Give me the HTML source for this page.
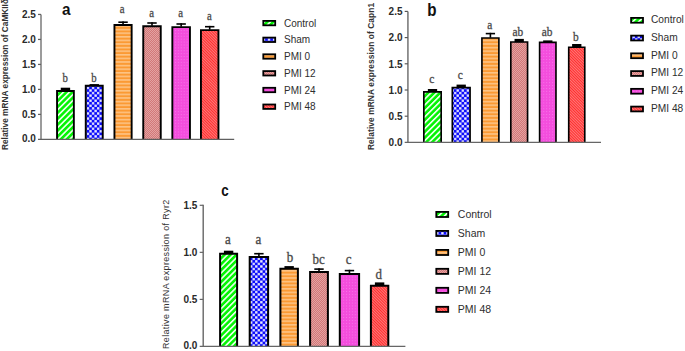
<!DOCTYPE html>
<html><head><meta charset="utf-8"><style>
html,body{margin:0;padding:0;background:#fff;width:685px;height:351px;overflow:hidden}
svg{display:block}
</style></head><body>
<svg width="685" height="351" viewBox="0 0 685 351">

<defs>
 <pattern id="pg" patternUnits="userSpaceOnUse" width="4.2" height="4.2" patternTransform="rotate(45)">
   <rect width="4.2" height="4.2" fill="#04f404"/><rect x="0" width="1.6" height="4.2" fill="#f0fff0"/>
 </pattern>
 <pattern id="pb" patternUnits="userSpaceOnUse" width="5.1" height="5.1">
   <rect width="5.1" height="5.1" fill="#0c0cfa"/>
   <rect x="0.12" y="0.12" width="2.3" height="2.3" fill="#f2f2ff"/>
   <rect x="2.67" y="2.67" width="2.3" height="2.3" fill="#f2f2ff"/>
 </pattern>
 <pattern id="po" patternUnits="userSpaceOnUse" width="4" height="3.6">
   <rect width="4" height="3.6" fill="#fb9a34"/><rect y="0" width="4" height="1.6" fill="#fdc384"/>
 </pattern>
 <pattern id="pr" patternUnits="userSpaceOnUse" width="2" height="2">
   <rect width="2" height="2" fill="#d27878"/><rect width="1" height="1" fill="#e4a2a2"/><rect x="1" y="1" width="1" height="1" fill="#e4a2a2"/>
 </pattern>
 <pattern id="pm" patternUnits="userSpaceOnUse" width="2.9" height="2.9">
   <rect width="2.9" height="2.9" fill="#f44ddd"/><rect x="1" y="1" width="1" height="1" fill="#f778ea"/>
 </pattern>
 <pattern id="pd" patternUnits="userSpaceOnUse" width="2" height="2" patternTransform="rotate(-45)">
   <rect width="2" height="2" fill="#ff2e2e"/><rect x="0" width="0.9" height="2" fill="#ff8080"/>
 </pattern>
</defs>
<rect width="685" height="351" fill="#fff"/>
<rect x="57.05" y="90.95" width="16.80" height="48.45" fill="url(#pg)"/>
<path d="M57.05,139.40V90.95H73.85V139.40" fill="none" stroke="#000" stroke-width="1.9"/>
<rect x="60.75" y="87.70" width="9.40" height="3.30" fill="#000"/>
<text transform="translate(65.20,82.00) scale(0.9,1.03)" text-anchor="middle" font-family='"Liberation Serif", serif' font-size="12" fill="#4a4a4a" stroke="#4a4a4a" stroke-width="0.3">b</text>
<rect x="85.75" y="85.75" width="17.00" height="53.65" fill="url(#pb)"/>
<path d="M85.75,139.40V85.75H102.75V139.40" fill="none" stroke="#000" stroke-width="1.9"/>
<rect x="89.55" y="84.10" width="9.40" height="1.70" fill="#000"/>
<text transform="translate(93.85,82.00) scale(0.9,1.03)" text-anchor="middle" font-family='"Liberation Serif", serif' font-size="12" fill="#4a4a4a" stroke="#4a4a4a" stroke-width="0.3">b</text>
<rect x="114.45" y="24.95" width="17.20" height="114.45" fill="url(#po)"/>
<path d="M114.45,139.40V24.95H131.65V139.40" fill="none" stroke="#000" stroke-width="1.9"/>
<rect x="122.25" y="21.40" width="1.6" height="3.10" fill="#000"/>
<rect x="118.35" y="21.40" width="9.40" height="1.6" fill="#000"/>
<text transform="translate(122.15,13.30) scale(0.9,1.03)" text-anchor="middle" font-family='"Liberation Serif", serif' font-size="12" fill="#4a4a4a" stroke="#4a4a4a" stroke-width="0.3">a</text>
<rect x="143.25" y="26.25" width="17.50" height="113.15" fill="url(#pr)"/>
<path d="M143.25,139.40V26.25H160.75V139.40" fill="none" stroke="#000" stroke-width="1.9"/>
<rect x="151.20" y="22.20" width="1.6" height="3.60" fill="#000"/>
<rect x="147.30" y="22.20" width="9.40" height="1.6" fill="#000"/>
<text transform="translate(151.65,17.40) scale(0.9,1.03)" text-anchor="middle" font-family='"Liberation Serif", serif' font-size="12" fill="#4a4a4a" stroke="#4a4a4a" stroke-width="0.3">a</text>
<rect x="172.35" y="27.15" width="17.60" height="112.25" fill="url(#pm)"/>
<path d="M172.35,139.40V27.15H189.95V139.40" fill="none" stroke="#000" stroke-width="1.9"/>
<rect x="180.35" y="23.20" width="1.6" height="3.50" fill="#000"/>
<rect x="176.45" y="23.20" width="9.40" height="1.6" fill="#000"/>
<text transform="translate(180.75,17.40) scale(0.9,1.03)" text-anchor="middle" font-family='"Liberation Serif", serif' font-size="12" fill="#4a4a4a" stroke="#4a4a4a" stroke-width="0.3">a</text>
<rect x="200.95" y="30.15" width="17.50" height="109.25" fill="url(#pd)"/>
<path d="M200.95,139.40V30.15H218.45V139.40" fill="none" stroke="#000" stroke-width="1.9"/>
<rect x="208.90" y="25.90" width="1.6" height="3.80" fill="#000"/>
<rect x="205.00" y="25.90" width="9.40" height="1.6" fill="#000"/>
<text transform="translate(209.30,19.60) scale(0.9,1.03)" text-anchor="middle" font-family='"Liberation Serif", serif' font-size="12" fill="#4a4a4a" stroke="#4a4a4a" stroke-width="0.3">a</text>
<line x1="41.0" y1="14.45" x2="41.0" y2="139.4" stroke="#606060" stroke-width="1.25"/>
<line x1="38" y1="139.4" x2="234.2" y2="139.4" stroke="#606060" stroke-width="1.25"/>
<text x="35.9" y="141.80" text-anchor="end" font-family='"Liberation Sans", sans-serif' font-weight="bold" font-size="10" fill="#2a2a2a">0.0</text>
<line x1="38" y1="114.41" x2="41.0" y2="114.41" stroke="#606060" stroke-width="1.25"/>
<text x="35.9" y="117.81" text-anchor="end" font-family='"Liberation Sans", sans-serif' font-weight="bold" font-size="10" fill="#2a2a2a">0.5</text>
<line x1="38" y1="89.42" x2="41.0" y2="89.42" stroke="#606060" stroke-width="1.25"/>
<text x="35.9" y="92.82" text-anchor="end" font-family='"Liberation Sans", sans-serif' font-weight="bold" font-size="10" fill="#2a2a2a">1.0</text>
<line x1="38" y1="64.43" x2="41.0" y2="64.43" stroke="#606060" stroke-width="1.25"/>
<text x="35.9" y="67.83" text-anchor="end" font-family='"Liberation Sans", sans-serif' font-weight="bold" font-size="10" fill="#2a2a2a">1.5</text>
<line x1="38" y1="39.44" x2="41.0" y2="39.44" stroke="#606060" stroke-width="1.25"/>
<text x="35.9" y="42.84" text-anchor="end" font-family='"Liberation Sans", sans-serif' font-weight="bold" font-size="10" fill="#2a2a2a">2.0</text>
<line x1="38" y1="14.45" x2="41.0" y2="14.45" stroke="#606060" stroke-width="1.25"/>
<text x="35.9" y="17.85" text-anchor="end" font-family='"Liberation Sans", sans-serif' font-weight="bold" font-size="10" fill="#2a2a2a">2.5</text>
<text transform="translate(62.0,14.8) scale(1,1.07)" font-family='"Liberation Sans", sans-serif' font-weight="bold" font-size="15.3" fill="#111">a</text>
<text transform="translate(7.7,150) rotate(-90)" x="0" y="0" font-family='"Liberation Sans", sans-serif' font-weight="bold" font-size="8.4" fill="#333" textLength="151" lengthAdjust="spacing">Relative mRNA expression of CaMKIIδ</text>
<rect x="263.30" y="20.90" width="11.90" height="4.40" fill="url(#pg)" stroke="#000" stroke-width="1.8"/>
<text x="284" y="26.60" font-family='"Liberation Sans", sans-serif' font-size="10" fill="#2e2e2e">Control</text>
<rect x="263.30" y="37.60" width="11.90" height="4.40" fill="url(#pb)" stroke="#000" stroke-width="1.8"/>
<text x="284" y="43.30" font-family='"Liberation Sans", sans-serif' font-size="10" fill="#2e2e2e">Sham</text>
<rect x="263.30" y="54.30" width="11.90" height="4.40" fill="url(#po)" stroke="#000" stroke-width="1.8"/>
<text x="284" y="60.00" font-family='"Liberation Sans", sans-serif' font-size="10" fill="#2e2e2e">PMI 0</text>
<rect x="263.30" y="71.10" width="11.90" height="4.40" fill="url(#pr)" stroke="#000" stroke-width="1.8"/>
<text x="284" y="76.80" font-family='"Liberation Sans", sans-serif' font-size="10" fill="#2e2e2e">PMI 12</text>
<rect x="263.30" y="87.80" width="11.90" height="4.40" fill="url(#pm)" stroke="#000" stroke-width="1.8"/>
<text x="284" y="93.50" font-family='"Liberation Sans", sans-serif' font-size="10" fill="#2e2e2e">PMI 24</text>
<rect x="263.30" y="104.50" width="11.90" height="4.40" fill="url(#pd)" stroke="#000" stroke-width="1.8"/>
<text x="284" y="110.20" font-family='"Liberation Sans", sans-serif' font-size="10" fill="#2e2e2e">PMI 48</text>
<rect x="423.82" y="91.83" width="17.35" height="50.58" fill="url(#pg)"/>
<path d="M423.82,142.40V91.83H441.18V142.40" fill="none" stroke="#000" stroke-width="1.65"/>
<rect x="427.85" y="89.00" width="9.30" height="3.00" fill="#000"/>
<text transform="translate(431.70,82.65) scale(0.95,1.0)" text-anchor="middle" font-family='"Liberation Serif", serif' font-size="12" fill="#4a4a4a" stroke="#4a4a4a" stroke-width="0.3">c</text>
<rect x="452.32" y="87.62" width="17.75" height="54.78" fill="url(#pb)"/>
<path d="M452.32,142.40V87.62H470.07V142.40" fill="none" stroke="#000" stroke-width="1.65"/>
<rect x="456.55" y="84.60" width="9.30" height="3.20" fill="#000"/>
<text transform="translate(460.20,79.15) scale(0.95,1.0)" text-anchor="middle" font-family='"Liberation Serif", serif' font-size="12" fill="#4a4a4a" stroke="#4a4a4a" stroke-width="0.3">c</text>
<rect x="481.93" y="38.03" width="16.95" height="104.38" fill="url(#po)"/>
<path d="M481.93,142.40V38.03H498.88V142.40" fill="none" stroke="#000" stroke-width="1.65"/>
<rect x="489.60" y="32.80" width="1.6" height="4.90" fill="#000"/>
<rect x="485.75" y="32.80" width="9.30" height="1.6" fill="#000"/>
<text transform="translate(489.90,28.70) scale(0.95,1.0)" text-anchor="middle" font-family='"Liberation Serif", serif' font-size="12" fill="#4a4a4a" stroke="#4a4a4a" stroke-width="0.3">a</text>
<rect x="510.82" y="42.03" width="16.75" height="100.38" fill="url(#pr)"/>
<path d="M510.82,142.40V42.03H527.57V142.40" fill="none" stroke="#000" stroke-width="1.65"/>
<rect x="514.55" y="38.90" width="9.30" height="3.30" fill="#000"/>
<text transform="translate(517.90,35.60) scale(0.95,1.0)" text-anchor="middle" font-family='"Liberation Serif", serif' font-size="12" fill="#4a4a4a" stroke="#4a4a4a" stroke-width="0.3">ab</text>
<rect x="539.62" y="42.43" width="16.35" height="99.98" fill="url(#pm)"/>
<path d="M539.62,142.40V42.43H555.97V142.40" fill="none" stroke="#000" stroke-width="1.65"/>
<rect x="543.15" y="40.40" width="9.30" height="2.20" fill="#000"/>
<text transform="translate(547.00,35.60) scale(0.95,1.0)" text-anchor="middle" font-family='"Liberation Serif", serif' font-size="12" fill="#4a4a4a" stroke="#4a4a4a" stroke-width="0.3">ab</text>
<rect x="568.73" y="47.23" width="16.05" height="95.17" fill="url(#pd)"/>
<path d="M568.73,142.40V47.23H584.77V142.40" fill="none" stroke="#000" stroke-width="1.65"/>
<rect x="572.10" y="44.00" width="9.30" height="3.40" fill="#000"/>
<text transform="translate(575.75,41.25) scale(0.95,1.0)" text-anchor="middle" font-family='"Liberation Serif", serif' font-size="12" fill="#4a4a4a" stroke="#4a4a4a" stroke-width="0.3">b</text>
<line x1="407.9" y1="11.4" x2="407.9" y2="142.4" stroke="#8a8a8a" stroke-width="1.8"/>
<line x1="404.7" y1="142.4" x2="601" y2="142.4" stroke="#666" stroke-width="1.15"/>
<text x="402.5" y="145.50" text-anchor="end" font-family='"Liberation Sans", sans-serif' font-weight="bold" font-size="10" fill="#2a2a2a">0.0</text>
<line x1="404.7" y1="116.20" x2="407.9" y2="116.20" stroke="#555" stroke-width="1.15"/>
<text x="402.5" y="119.90" text-anchor="end" font-family='"Liberation Sans", sans-serif' font-weight="bold" font-size="10" fill="#2a2a2a">0.5</text>
<line x1="404.7" y1="90.00" x2="407.9" y2="90.00" stroke="#555" stroke-width="1.15"/>
<text x="402.5" y="93.70" text-anchor="end" font-family='"Liberation Sans", sans-serif' font-weight="bold" font-size="10" fill="#2a2a2a">1.0</text>
<line x1="404.7" y1="63.80" x2="407.9" y2="63.80" stroke="#555" stroke-width="1.15"/>
<text x="402.5" y="67.50" text-anchor="end" font-family='"Liberation Sans", sans-serif' font-weight="bold" font-size="10" fill="#2a2a2a">1.5</text>
<line x1="404.7" y1="37.60" x2="407.9" y2="37.60" stroke="#555" stroke-width="1.15"/>
<text x="402.5" y="41.30" text-anchor="end" font-family='"Liberation Sans", sans-serif' font-weight="bold" font-size="10" fill="#2a2a2a">2.0</text>
<line x1="404.7" y1="11.40" x2="407.9" y2="11.40" stroke="#555" stroke-width="1.15"/>
<text x="402.5" y="15.10" text-anchor="end" font-family='"Liberation Sans", sans-serif' font-weight="bold" font-size="10" fill="#2a2a2a">2.5</text>
<text transform="translate(427.3,15.8) scale(1,1.15)" font-family='"Liberation Sans", sans-serif' font-weight="bold" font-size="15.2" fill="#111">b</text>
<text transform="translate(374.4,150) rotate(-90)" x="0" y="0" font-family='"Liberation Sans", sans-serif' font-weight="bold" font-size="8.4" fill="#333" textLength="147.2" lengthAdjust="spacing">Relative mRNA expression of Capn1</text>
<rect x="631.10" y="17.90" width="11.90" height="4.80" fill="url(#pg)" stroke="#000" stroke-width="1.8"/>
<text x="651.0" y="23.20" font-family='"Liberation Sans", sans-serif' font-size="10.2" fill="#2e2e2e">Control</text>
<rect x="631.10" y="35.64" width="11.90" height="4.80" fill="url(#pb)" stroke="#000" stroke-width="1.8"/>
<text x="651.0" y="40.94" font-family='"Liberation Sans", sans-serif' font-size="10.2" fill="#2e2e2e">Sham</text>
<rect x="631.10" y="53.38" width="11.90" height="4.80" fill="url(#po)" stroke="#000" stroke-width="1.8"/>
<text x="651.0" y="58.68" font-family='"Liberation Sans", sans-serif' font-size="10.2" fill="#2e2e2e">PMI 0</text>
<rect x="631.10" y="71.12" width="11.90" height="4.80" fill="url(#pr)" stroke="#000" stroke-width="1.8"/>
<text x="651.0" y="76.42" font-family='"Liberation Sans", sans-serif' font-size="10.2" fill="#2e2e2e">PMI 12</text>
<rect x="631.10" y="88.86" width="11.90" height="4.80" fill="url(#pm)" stroke="#000" stroke-width="1.8"/>
<text x="651.0" y="94.16" font-family='"Liberation Sans", sans-serif' font-size="10.2" fill="#2e2e2e">PMI 24</text>
<rect x="631.10" y="106.60" width="11.90" height="4.80" fill="url(#pd)" stroke="#000" stroke-width="1.8"/>
<text x="651.0" y="111.90" font-family='"Liberation Sans", sans-serif' font-size="10.2" fill="#2e2e2e">PMI 48</text>
<rect x="220.10" y="253.70" width="17.00" height="92.75" fill="url(#pg)"/>
<path d="M220.10,346.45V253.70H237.10V346.45" fill="none" stroke="#000" stroke-width="2.0"/>
<rect x="223.90" y="250.70" width="9.40" height="3.00" fill="#000"/>
<text transform="translate(227.95,244.00) scale(1.0,1.1)" text-anchor="middle" font-family='"Liberation Serif", serif' font-size="13" fill="#4a4a4a" stroke="#4a4a4a" stroke-width="0.3">a</text>
<rect x="249.70" y="256.90" width="18.40" height="89.55" fill="url(#pb)"/>
<path d="M249.70,346.45V256.90H268.10V346.45" fill="none" stroke="#000" stroke-width="2.0"/>
<rect x="258.10" y="252.90" width="1.6" height="3.50" fill="#000"/>
<rect x="254.20" y="252.90" width="9.40" height="1.6" fill="#000"/>
<text transform="translate(258.50,244.30) scale(1.0,1.1)" text-anchor="middle" font-family='"Liberation Serif", serif' font-size="13" fill="#4a4a4a" stroke="#4a4a4a" stroke-width="0.3">a</text>
<rect x="280.40" y="268.70" width="17.50" height="77.75" fill="url(#po)"/>
<path d="M280.40,346.45V268.70H297.90V346.45" fill="none" stroke="#000" stroke-width="2.0"/>
<rect x="284.45" y="266.10" width="9.40" height="2.60" fill="#000"/>
<text transform="translate(289.95,261.70) scale(1.0,1.1)" text-anchor="middle" font-family='"Liberation Serif", serif' font-size="13" fill="#4a4a4a" stroke="#4a4a4a" stroke-width="0.3">b</text>
<rect x="310.10" y="271.90" width="17.80" height="74.55" fill="url(#pr)"/>
<path d="M310.10,346.45V271.90H327.90V346.45" fill="none" stroke="#000" stroke-width="2.0"/>
<rect x="318.20" y="268.30" width="1.6" height="3.10" fill="#000"/>
<rect x="314.30" y="268.30" width="9.40" height="1.6" fill="#000"/>
<text transform="translate(318.55,264.30) scale(1.0,1.1)" text-anchor="middle" font-family='"Liberation Serif", serif' font-size="13" fill="#4a4a4a" stroke="#4a4a4a" stroke-width="0.3">bc</text>
<rect x="339.80" y="273.90" width="19.30" height="72.55" fill="url(#pm)"/>
<path d="M339.80,346.45V273.90H359.10V346.45" fill="none" stroke="#000" stroke-width="2.0"/>
<rect x="348.65" y="269.80" width="1.6" height="3.60" fill="#000"/>
<rect x="344.75" y="269.80" width="9.40" height="1.6" fill="#000"/>
<text transform="translate(348.75,264.20) scale(1.0,1.1)" text-anchor="middle" font-family='"Liberation Serif", serif' font-size="13" fill="#4a4a4a" stroke="#4a4a4a" stroke-width="0.3">c</text>
<rect x="370.90" y="285.70" width="17.40" height="60.75" fill="url(#pd)"/>
<path d="M370.90,346.45V285.70H388.30V346.45" fill="none" stroke="#000" stroke-width="2.0"/>
<rect x="374.90" y="282.40" width="9.40" height="3.30" fill="#000"/>
<text transform="translate(378.85,278.50) scale(1.0,1.1)" text-anchor="middle" font-family='"Liberation Serif", serif' font-size="13" fill="#4a4a4a" stroke="#4a4a4a" stroke-width="0.3">d</text>
<line x1="203.2" y1="204.8" x2="203.2" y2="346.45" stroke="#666666" stroke-width="1.4"/>
<line x1="199.7" y1="346.45" x2="405.4" y2="346.45" stroke="#666666" stroke-width="1.2"/>
<text x="197.4" y="348.55" text-anchor="end" font-family='"Liberation Sans", sans-serif' font-weight="bold" font-size="10" fill="#2a2a2a">0.0</text>
<line x1="199.7" y1="299.40" x2="203.2" y2="299.40" stroke="#666666" stroke-width="1.2"/>
<text x="197.4" y="302.60" text-anchor="end" font-family='"Liberation Sans", sans-serif' font-weight="bold" font-size="10" fill="#2a2a2a">0.5</text>
<line x1="199.7" y1="252.35" x2="203.2" y2="252.35" stroke="#666666" stroke-width="1.2"/>
<text x="197.4" y="255.55" text-anchor="end" font-family='"Liberation Sans", sans-serif' font-weight="bold" font-size="10" fill="#2a2a2a">1.0</text>
<line x1="199.7" y1="205.30" x2="203.2" y2="205.30" stroke="#666666" stroke-width="1.2"/>
<text x="197.4" y="208.50" text-anchor="end" font-family='"Liberation Sans", sans-serif' font-weight="bold" font-size="10" fill="#2a2a2a">1.5</text>
<text transform="translate(221.3,195.6) scale(1,1.22)" font-family='"Liberation Sans", sans-serif' font-weight="bold" font-size="13.4" fill="#111">c</text>
<text transform="translate(168.5,349) rotate(-90)" x="0" y="0" font-family='"Liberation Sans", sans-serif' font-weight="normal" font-size="9" fill="#333" textLength="149.3" lengthAdjust="spacing">Relative mRNA expression of Ryr2</text>
<rect x="436.30" y="211.90" width="11.90" height="5.10" fill="url(#pg)" stroke="#000" stroke-width="1.8"/>
<text x="457.8" y="217.90" font-family='"Liberation Sans", sans-serif' font-size="10.5" fill="#2e2e2e">Control</text>
<rect x="436.30" y="230.90" width="11.90" height="5.10" fill="url(#pb)" stroke="#000" stroke-width="1.8"/>
<text x="457.8" y="236.90" font-family='"Liberation Sans", sans-serif' font-size="10.5" fill="#2e2e2e">Sham</text>
<rect x="436.30" y="249.90" width="11.90" height="5.10" fill="url(#po)" stroke="#000" stroke-width="1.8"/>
<text x="457.8" y="255.90" font-family='"Liberation Sans", sans-serif' font-size="10.5" fill="#2e2e2e">PMI 0</text>
<rect x="436.30" y="268.80" width="11.90" height="5.10" fill="url(#pr)" stroke="#000" stroke-width="1.8"/>
<text x="457.8" y="274.80" font-family='"Liberation Sans", sans-serif' font-size="10.5" fill="#2e2e2e">PMI 12</text>
<rect x="436.30" y="287.80" width="11.90" height="5.10" fill="url(#pm)" stroke="#000" stroke-width="1.8"/>
<text x="457.8" y="293.80" font-family='"Liberation Sans", sans-serif' font-size="10.5" fill="#2e2e2e">PMI 24</text>
<rect x="436.30" y="306.80" width="11.90" height="5.10" fill="url(#pd)" stroke="#000" stroke-width="1.8"/>
<text x="457.8" y="312.80" font-family='"Liberation Sans", sans-serif' font-size="10.5" fill="#2e2e2e">PMI 48</text>
</svg>
</body></html>
